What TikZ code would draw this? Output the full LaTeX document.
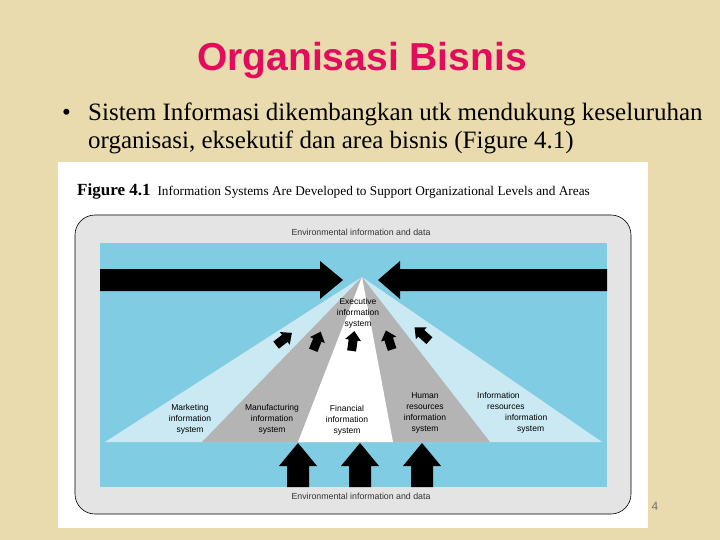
\documentclass[tikz,border=0pt]{standalone}
\usepackage{fontspec}
\usepackage{xcolor}
\setmainfont{Liberation Serif}
\newfontfamily\figsans{Liberation Sans}

\definecolor{parchment}{RGB}{234,219,174}
\definecolor{titlepink}{RGB}{226,12,92}
\definecolor{panelgray}{RGB}{228,228,228}
\definecolor{skyblue}{RGB}{128,204,226}
\definecolor{paleblue}{RGB}{202,233,243}
\definecolor{sectorgray}{RGB}{180,180,180}

\tikzset{
  syslabel/.style={align=center, inner sep=0pt, font=\figsans\fontsize{8.5}{11}\selectfont},
  envlabel/.style={inner sep=0pt, text=black!80, font=\figsans\fontsize{8.8}{10}\selectfont},
  smallarrow/.pic={\fill[black] (0,-10) -- (8,-1) -- (4.5,-1) -- (4.5,10) -- (-4.5,10) -- (-4.5,-1) -- (-8,-1) -- cycle;},
  bigarrow/.pic={\fill[black] (0,-22) -- (19,1) -- (11,1) -- (11,22) -- (-11,22) -- (-11,1) -- (-19,1) -- cycle;}
}

\begin{document}
\begin{tikzpicture}[x=1pt,y=-1pt]
\useasboundingbox (0,0) rectangle (720,540);
\fill[parchment] (0,0) rectangle (720,540);
% Slide heading and bullet
\node[anchor=base, inner sep=0pt, text=titlepink, font=\figsans\bfseries\fontsize{39}{44}\selectfont] (title) at (362,71) {Organisasi Bisnis};
% base of this node is its last line
\node[anchor=base west, inner sep=0pt, align=left, font=\fontsize{25}{28}\selectfont] (bullet) at (62,149)
  {\makebox[26pt][l]{\textbullet}Sistem Informasi dikembangkan utk mendukung keseluruhan\\
   \hspace*{26pt}organisasi, eksekutif dan area bisnis (Figure 4.1)};
% Figure panel
\fill[white] (58,162) rectangle (648,528);
\node[anchor=base west, inner sep=0pt] (caption) at (77,196)
  {{\bfseries\fontsize{17}{20}\selectfont Figure 4.1}\hspace{7pt}{\fontsize{13.3}{15}\selectfont Information Systems Are Developed to Support Organizational Levels and Areas}};
\draw[fill=panelgray, line width=0.6pt, rounded corners=20pt] (75,215) rectangle (631,514);
\fill[skyblue] (100,243) rectangle (607,487);
\node[envlabel] (envtop) at (361,232) {Environmental information and data};
\node[envlabel] (envbot) at (361,496) {Environmental information and data};
% Fan of functional areas
\fill[paleblue] (362,277) -- (105,442) -- (602,442) -- cycle;
\fill[sectorgray] (362,277) -- (202,442) -- (490,442) -- cycle;
\fill[white] (362,277) -- (298,442) -- (393,442) -- cycle;
% Environment arrows, left and right
\fill[black] (100,269) -- (320,269) -- (320,261) -- (343,280) -- (320,299) -- (320,291) -- (100,291) -- cycle;
\fill[black] (607,269) -- (400,269) -- (400,261) -- (378,280) -- (400,299) -- (400,291) -- (607,291) -- cycle;
% Arrows into the executive level
\pic[rotate=-52] at (284,339) {smallarrow};
\pic[rotate=-22] at (317,341) {smallarrow};
\pic[rotate=-8] at (353,341) {smallarrow};
\pic[rotate=18] at (389,340) {smallarrow};
\pic[rotate=48] at (422,334) {smallarrow};
% Arrows from the bottom
\pic at (298,465) {bigarrow};
\pic at (360,465) {bigarrow};
\pic at (422,465) {bigarrow};
% Labels of the systems
\node[syslabel] (exec) at (358,313) {Executive\\information\\system};
\node[syslabel] (mkt) at (190,419) {Marketing\\information\\system};
\node[syslabel] (mfg) at (272,419) {Manufacturing\\information\\system};
\node[syslabel] (fin) at (347,420) {Financial\\information\\system};
\node[syslabel] (hr) at (425,413) {Human\\resources\\information\\system};
\node[syslabel, align=left, anchor=north west] (irs) at (477,392)
  {Information\\\hspace*{10pt}resources\\\hspace*{28pt}information\\\hspace*{40pt}system};
% Page number
\node[inner sep=0pt, text=black!55, font=\figsans\fontsize{12}{14}\selectfont] (pagenum) at (655,506) {4};
\end{tikzpicture}
\end{document}
